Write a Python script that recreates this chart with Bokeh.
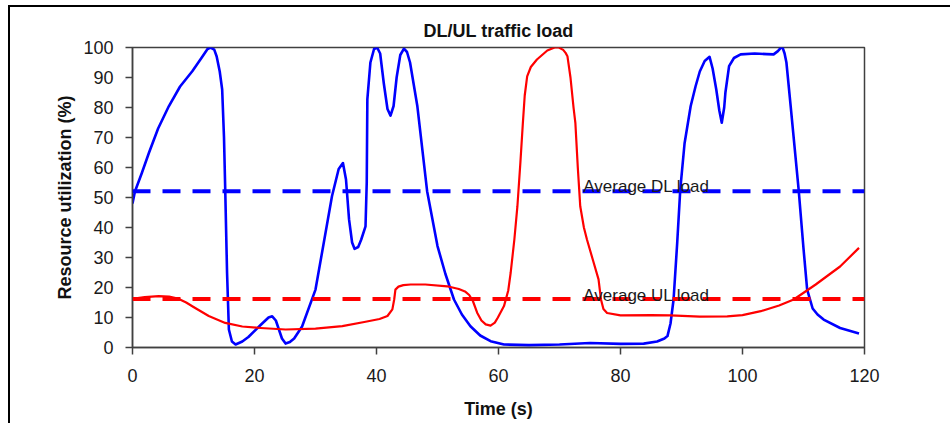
from bokeh.plotting import figure
from bokeh.models import Range1d, FixedTicker, Span, Label, Title
from bokeh.layouts import column
from bokeh.embed import file_html
from bokeh.resources import INLINE

# DL traffic load (blue), time (s) vs resource utilization (%)
dl_time = [0, 0.4, 1.5, 2.7, 4.2, 5.95, 7.8, 9.8, 11.3, 12.3, 12.8, 13.4, 13.8, 14.3, 14.7, 15.0, 15.2, 15.5,
           15.8, 16.3, 16.9, 18, 19, 21, 22.3, 22.9, 23.5, 24, 24.5, 25.1, 25.8, 26.5, 27.8, 30, 32.7, 33.8,
           34.5, 35.0, 35.5, 36.0, 36.4, 37.0, 37.5, 38.2, 38.4, 38.5, 39.0, 39.6, 40.1, 40.6, 41.2, 41.8,
           42.3, 42.8, 43.3, 43.9, 44.5, 45.0, 45.5, 46.7, 48.3, 50, 51.3, 52.7, 54, 55.4, 57, 58.7, 60.9,
           65, 70, 75, 80, 83.8, 86, 87.2, 87.7, 88.2, 88.7, 89.3, 89.8, 90.5, 91.5, 92.3, 93, 93.8, 94.6,
           95.1, 95.7, 96.2, 96.6, 97.0, 97.2, 97.8, 98.6, 99.7, 102, 104, 105.1, 105.8, 106.5, 106.9, 107.2,
           107.9, 109.2, 110.0, 110.6, 111.5, 112.3, 113.3, 116, 119.1]
dl_load = [48, 52, 58, 64.9, 73, 80.4, 87, 92.1, 96.5, 99.5, 100, 99.3, 97, 92, 86, 70, 52.7, 25,
           6, 2, 1, 2, 3.5, 7.5, 10, 10.4, 9, 6, 3, 1.3, 1.8, 3, 7, 19.3, 50.4, 59.5,
           61.5, 56, 42.7, 35, 32.9, 33.5, 36, 40.4, 55, 82.7, 95, 99.5, 100, 98, 88, 79.5,
           77.3, 80.5, 90, 97.5, 99.6, 98.5, 95, 80.4, 52.1, 33.8, 24.5, 16, 11, 7.1, 4, 2.1, 1,
           0.8, 1, 1.5, 1.2, 1.3, 2, 3, 3.8, 8, 16, 35, 52.7, 68, 80.4, 87, 92, 95.5, 96.9,
           93, 86, 79, 74.9, 80, 85, 93.8, 96.5, 97.7, 98, 97.8, 97.7, 98.8, 100.4, 98, 95,
           80.4, 52.7, 33, 19.3, 13, 11, 9.3, 6.5, 4.7]

# UL traffic load (red)
ul_time = [0, 2, 4.3, 6, 7.6, 8.8, 10, 12.5, 15.2, 18, 21, 25.1, 30, 34.4, 38, 40.5, 41.8, 42.6, 42.9, 43.1,
           43.6, 44.4, 45.6, 48, 51.6, 53.5, 54.5, 55.2, 55.8, 56.5, 57.2, 57.9, 58.7, 59.4, 59.9, 60.9, 61.6,
           62, 62.6, 63.1, 63.6, 64, 64.3, 64.7, 65.3, 66.3, 68, 69.2, 69.9, 70.6, 71.0, 71.3, 71.8, 72.3,
           72.6, 73.0, 73.4, 74.0, 74.5, 75.5, 76.4, 76.8, 77.2, 77.8, 80, 85, 88.2, 93, 97.5, 100, 103,
           106, 108.4, 112, 116, 119.1]
ul_load = [16.2, 16.8, 17.1, 17, 16.2, 15, 13.5, 10.5, 8.2, 7, 6.5, 6, 6.3, 7.1, 8.5, 9.5, 10.5, 12.7, 16, 19.3,
           20.3, 20.8, 21, 21, 20.4, 19.5, 18.7, 17.5, 15.5, 11.6, 9, 7.7, 7.3, 8.3, 10, 13.8, 19,
           25, 36, 47.1, 62, 75, 84, 90.4, 93.5, 96, 99, 100, 100, 99.2, 98.2, 97.1, 90, 80,
           74.9, 60, 47.1, 40, 36, 29, 22.7, 16, 12.8, 11.5, 10.7, 10.8, 10.7, 10.3, 10.4, 10.8, 12.1,
           14, 16, 21, 27, 33.2]

avg_dl = 52.1
avg_ul = 16.2
avg_labels = ["Average DL load", "Average UL load"]
label_x = 73.9
label_y = [53.8, 17.4]

x_ticks = [0, 20, 40, 60, 80, 100, 120]
y_ticks = [0, 10, 20, 30, 40, 50, 60, 70, 80, 90, 100]

FONT = "Liberation Sans"

p = figure(width=940, height=416, output_backend="svg", toolbar_location=None,
           x_range=Range1d(0, 120), y_range=Range1d(0, 100),
           min_border_left=122, min_border_right=86, min_border_top=40, min_border_bottom=76)
p.title = Title(text="DL/UL traffic load", align="center", text_font=FONT, text_font_size="18px",
                text_font_style="bold", text_color="#111111", standoff=14)

p.xgrid.visible = False
p.ygrid.visible = False
p.outline_line_color = "#404040"
p.outline_line_width = 1.5
p.background_fill_color = "white"
p.border_fill_color = "white"

for ax in (p.xaxis[0], p.yaxis[0]):
    ax.axis_line_color = "#404040"
    ax.axis_line_width = 1.5
    ax.major_tick_line_color = "#404040"
    ax.major_tick_line_width = 1.5
    ax.major_tick_in = 0
    ax.major_tick_out = 7
    ax.minor_tick_line_color = None
    ax.major_label_text_font = FONT
    ax.major_label_text_font_size = "18px"
    ax.major_label_text_color = "#1a1a1a"
    ax.axis_label_text_font = FONT
    ax.axis_label_text_font_size = "18px"
    ax.axis_label_text_font_style = "bold"
    ax.axis_label_text_color = "#111111"

p.xaxis[0].ticker = FixedTicker(ticks=x_ticks)
p.yaxis[0].ticker = FixedTicker(ticks=y_ticks)
p.xaxis[0].axis_label = "Time (s)"
p.yaxis[0].axis_label = "Resource utilization (%)"
p.xaxis[0].major_label_standoff = 14
p.yaxis[0].major_label_standoff = 12
p.xaxis[0].axis_label_standoff = 14
p.yaxis[0].axis_label_standoff = 5

p.add_layout(Span(location=avg_dl, dimension="width", line_color="#0000FF", line_width=4, line_dash="18 12"))
p.add_layout(Span(location=avg_ul, dimension="width", line_color="#FF0000", line_width=4, line_dash="18 12"))

p.line(dl_time, dl_load, line_color="#0000FF", line_width=2.6, line_join="round")
p.line(ul_time, ul_load, line_color="#FF0000", line_width=2.2, line_join="round")

for txt, ly in zip(avg_labels, label_y):
    p.add_layout(Label(x=label_x, y=ly, text=txt, text_font=FONT, text_font_size="17px",
                       text_color="#1a1a1a", text_baseline="alphabetic"))

layout = column(p, styles={"border-left": "2px solid #000000", "border-top": "2px solid #000000",
                           "margin-left": "8px", "margin-top": "5px"})

open("out.html", "w").write(file_html(layout, INLINE))
